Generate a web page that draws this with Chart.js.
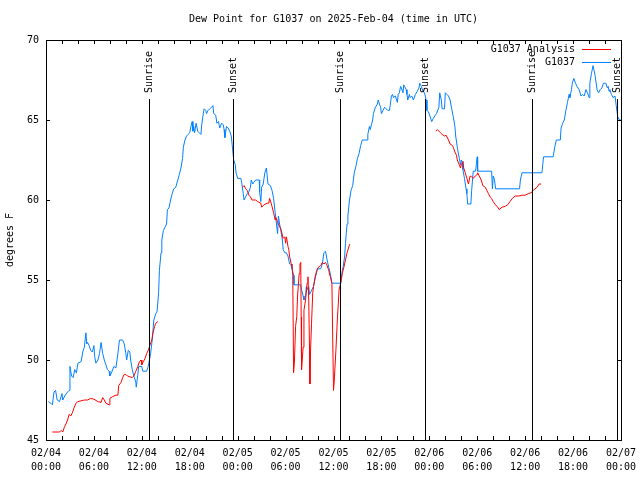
<!DOCTYPE html>
<html>
<head>
<meta charset="utf-8">
<title>Dew Point for G1037</title>
<script src="https://cdn.jsdelivr.net/npm/chart.js@4/dist/chart.umd.min.js"></script>
<style>
    html, body { margin: 0; padding: 0; background: #fff; }
    #wrap { width: 640px; height: 480px; position: relative; }
</style>
</head>
<body>
<div id="wrap"><canvas id="dew-chart"></canvas></div>
<script>
// hours since 02/04 00:00 UTC
const xTickLabels = [
    ['02/04', '00:00'], ['02/04', '06:00'], ['02/04', '12:00'], ['02/04', '18:00'],
    ['02/05', '00:00'], ['02/05', '06:00'], ['02/05', '12:00'], ['02/05', '18:00'],
    ['02/06', '00:00'], ['02/06', '06:00'], ['02/06', '12:00'], ['02/06', '18:00'],
    ['02/07', '00:00']
];
const yTicks = [45, 50, 55, 60, 65, 70];

const sunLabels = ['Sunrise', 'Sunset', 'Sunrise', 'Sunset', 'Sunrise', 'Sunset'];
const sunHours = [12.9, 23.4, 36.8, 47.4, 60.85, 71.45];

// G1037 observations
const obsHours = [
    0.3, 0.6, 0.8, 1.0, 1.2, 1.4, 1.7, 2.0, 2.1, 2.4, 2.7, 2.9, 3.0, 3.2, 3.4, 3.6, 3.8, 4.0, 4.4, 4.6,
    4.8, 5.0, 5.1, 5.2, 5.4, 5.6, 5.8, 6.0, 6.1, 6.25, 6.5, 6.7, 6.9, 7.0, 7.1, 7.3, 7.5, 7.7, 7.9, 8.0,
    8.2, 8.5, 8.75, 9.0, 9.2, 9.6, 9.8, 10.0, 10.1, 10.3, 10.5, 10.6, 10.8, 11.0, 11.25, 11.3, 11.5, 11.6, 12.0, 12.1,
    12.6, 12.8, 13.1, 13.3, 13.5, 13.75, 13.9, 14.1, 14.2, 14.4, 14.5, 14.7, 14.9, 15.1, 15.2, 15.4, 15.6, 15.8, 16.0, 16.25,
    16.5, 16.7, 16.9, 17.1, 17.2, 17.4, 17.6, 17.8, 18.0, 18.1, 18.3, 18.4, 18.5, 18.6, 18.8, 19.0, 19.2, 19.4, 19.5, 19.7,
    19.8, 20.0, 20.1, 20.3, 20.5, 20.75, 20.9, 21.0, 21.25, 21.4, 21.6, 21.75, 22.0, 22.2, 22.3, 22.4, 22.6, 22.8, 23.0, 23.2,
    23.4, 23.5, 23.7, 23.8, 24.0, 24.4, 24.5, 24.7, 24.8, 25.0, 25.2, 25.4, 25.6, 25.7, 25.9, 26.0, 26.25, 26.7, 26.75, 26.9,
    27.0, 27.2, 27.4, 27.6, 27.7, 27.8, 28.1, 28.3, 28.5, 28.7, 28.8, 29.0, 29.1, 29.25, 29.4, 29.6, 29.7, 29.9, 30.1, 30.3,
    30.5, 30.7, 30.8, 31.0, 31.05, 31.9, 32.0, 32.2, 32.3, 32.5, 32.6, 32.8, 32.9, 33.0, 33.2, 33.5, 33.75, 34.0, 34.4, 34.6,
    34.8, 35.0, 35.2, 35.4, 35.6, 35.8, 36.9, 37.1, 37.2, 37.4, 37.5, 37.6, 37.7, 37.8, 38.0, 38.2, 38.4, 38.6, 38.8, 39.0,
    39.2, 39.4, 39.6, 40.2, 40.3, 40.5, 40.6, 40.75, 40.9, 41.0, 41.25, 41.5, 41.6, 41.75, 41.9, 42.0, 42.2, 42.4, 42.6, 42.8,
    43.0, 43.1, 43.25, 43.4, 43.5, 43.75, 44.0, 44.1, 44.25, 44.4, 44.5, 44.7, 44.8, 44.9, 45.1, 45.2, 45.3, 45.5, 45.6, 45.8,
    46.0, 46.25, 46.5, 46.7, 46.8, 47.0, 47.2, 47.4, 47.6, 47.7, 47.9, 48.1, 48.3, 48.5, 48.75, 48.9, 49.2, 49.3, 49.5, 49.6,
    49.9, 50.0, 50.2, 50.4, 50.6, 50.8, 51.0, 51.2, 51.3, 51.5, 51.6, 51.75, 51.9, 52.0, 52.1, 52.2, 52.4, 52.6, 52.7, 52.8,
    53.2, 53.3, 53.45, 53.5, 53.8, 53.9, 54.0, 54.05, 55.8, 55.9, 56.0, 56.15, 56.3, 59.3, 59.4, 59.6, 62.1, 62.2, 62.3, 63.5,
    63.7, 63.9, 64.4, 64.5, 64.7, 64.9, 65.1, 65.3, 65.5, 65.6, 65.8, 65.9, 66.1, 66.3, 66.5, 66.75, 67.0, 67.2, 67.4, 67.6,
    67.8, 68.0, 68.1, 68.3, 68.5, 68.75, 69.0, 69.2, 69.4, 69.6, 69.8, 70.1, 70.3, 70.4, 70.5, 70.6, 70.8, 71.0, 71.25, 71.4,
    71.6, 71.8, 72.0
];
const obsDew = [
    47.4, 47.3, 47.2, 48.0, 48.1, 47.5, 47.4, 47.9, 47.5, 47.8, 48.0, 48.1, 49.6, 49.0, 48.9, 49.4, 49.2, 49.8, 49.9, 50.5,
    50.8, 51.7, 51.0, 51.1, 50.9, 50.6, 50.5, 50.9, 50.2, 49.8, 50.0, 50.4, 51.1, 51.1, 50.4, 50.0, 49.7, 49.4, 49.3, 49.0,
    49.2, 49.6, 49.5, 50.4, 51.25, 51.25, 51.0, 50.4, 50.0, 50.6, 50.5, 50.0, 49.4, 49.0, 48.6, 48.3, 49.1, 49.6, 49.6, 49.3,
    49.3, 49.6, 50.4, 51.25, 52.5, 52.9, 53.0, 54.2, 55.6, 56.7, 57.5, 58.1, 58.3, 58.5, 59.4, 59.5, 60.0, 60.4, 60.7, 60.8,
    61.25, 61.6, 62.0, 62.6, 63.3, 63.75, 64.0, 64.1, 64.2, 64.5, 64.9, 64.3, 64.6, 64.2, 64.8, 64.3, 64.2, 64.1, 64.7, 65.4,
    65.7, 65.6, 65.4, 65.6, 65.7, 65.8, 65.9, 65.4, 65.3, 64.8, 64.9, 64.5, 64.8, 64.7, 64.4, 63.9, 64.6, 64.5, 64.3, 64.0,
    63.0, 62.5, 62.2, 61.7, 61.35, 61.35, 61.1, 60.4, 60.0, 60.2, 60.4, 60.5, 60.8, 61.25, 61.0, 61.1, 61.25, 61.25, 60.5, 59.9,
    60.8, 61.0, 61.7, 62.0, 61.5, 61.0, 60.9, 60.6, 60.1, 59.2, 58.75, 57.9, 59.0, 58.5, 58.1, 57.5, 56.9, 56.7, 56.7, 56.5,
    56.0, 55.9, 55.7, 55.3, 54.7, 54.7, 54.4, 54.0, 53.75, 54.0, 54.6, 54.4, 54.6, 54.1, 54.3, 54.6, 55.2, 55.7, 55.7, 56.0,
    56.7, 56.8, 56.25, 55.8, 55.4, 54.8, 54.8, 55.6, 55.8, 56.5, 57.3, 57.9, 58.5, 59.0, 60.0, 60.6, 60.9, 61.7, 62.1, 62.6,
    62.9, 63.4, 63.75, 63.75, 64.1, 64.6, 64.4, 64.7, 65.0, 65.4, 65.8, 66.0, 66.25, 66.0, 65.8, 65.4, 65.6, 65.8, 65.7, 65.6,
    65.6, 65.9, 66.5, 66.6, 66.4, 66.5, 66.1, 66.6, 66.7, 67.1, 67.0, 66.7, 67.2, 67.1, 66.9, 66.6, 66.25, 66.6, 66.4, 66.5,
    66.25, 66.6, 66.8, 67.0, 67.3, 67.1, 66.8, 66.7, 66.25, 65.6, 65.5, 65.2, 64.9, 65.1, 65.3, 65.4, 65.8, 66.7, 66.25, 65.7,
    65.7, 66.7, 66.6, 66.5, 66.25, 65.7, 65.2, 64.6, 64.0, 63.3, 63.0, 62.6, 62.2, 62.5, 62.4, 61.9, 61.35, 60.7, 60.4, 59.75,
    59.75, 60.6, 61.5, 61.8, 61.8, 62.3, 62.7, 61.8, 61.8, 60.7, 61.5, 61.3, 60.7, 60.7, 61.25, 61.7, 61.7, 62.2, 62.7, 62.7,
    63.3, 63.75, 63.75, 64.5, 64.8, 65.0, 65.6, 66.1, 66.6, 66.4, 66.9, 67.3, 67.6, 67.3, 67.1, 66.9, 66.5, 66.6, 66.5, 66.9,
    66.7, 66.4, 67.3, 67.9, 68.4, 67.8, 66.9, 66.7, 66.9, 67.0, 67.3, 67.3, 67.0, 67.1, 66.8, 66.9, 66.6, 66.4, 66.5, 65.9,
    65.2, 65.0, 65.0
];

// G1037 Analysis (null = no analysis)
const anaHours = [
    0.8, 1.7, 1.9, 2.1, 2.3, 2.5, 2.7, 2.9, 3.1, 3.3, 3.5, 3.75, 4.0, 4.4, 4.8, 5.2, 5.6, 6.0, 6.5, 6.9,
    7.1, 7.3, 7.5, 7.9, 8.0, 8.3, 8.75, 9.0, 9.1, 9.4, 9.6, 9.8, 10.0, 10.2, 10.8, 11.0, 11.25, 11.5, 11.7, 11.9,
    12.0, 12.2, 12.4, 12.6, 12.8, 13.0, 13.25, 13.4, 13.6, 13.75, 14.0, 14.5,
    24.6, 24.8, 25.0, 25.2, 25.4, 25.6, 25.8, 26.25, 26.5, 26.9, 27.0, 27.3, 27.7, 27.9, 28.0, 28.2, 28.3, 28.5, 28.7, 28.8,
    29.0, 29.2, 29.4, 29.5, 29.7, 29.9, 30.0, 30.1, 30.3, 30.4, 30.5, 30.7, 30.8, 30.9, 31.0, 31.1, 31.25, 31.4, 31.5, 31.7,
    31.8, 31.9, 31.95, 32.0, 32.2, 32.3, 32.5, 32.7, 32.8, 32.9, 33.0, 33.05, 33.1, 33.25, 33.4, 33.5, 33.7, 33.9, 34.1, 34.4,
    34.6, 34.8, 35.0, 35.2, 35.4, 35.6, 35.8, 36.0, 36.1, 36.3, 36.5, 36.6, 36.7, 36.9, 37.1, 37.3, 37.5, 37.7, 38.0, 38.1, 38.5,
    48.8, 49.0, 49.4, 49.6, 49.9, 50.1, 50.4, 50.6, 50.9, 51.0, 51.2, 51.4, 51.5, 51.75, 51.9, 52.0, 52.2, 52.3, 52.5, 52.7,
    52.9, 53.0, 53.1, 53.3, 53.5, 53.75, 54.0, 54.05, 54.25, 54.5, 54.7, 55.0, 55.2, 55.4, 55.6, 55.8, 56.0, 56.25, 56.5, 56.75,
    57.1, 57.5, 57.8, 58.1, 58.4, 58.75, 59.2, 59.6, 60.0, 60.4, 60.75, 61.0, 61.5, 61.75, 62.0
];
const anaDew = [
    45.5, 45.5, 45.6, 45.5, 45.8, 46.0, 46.25, 46.6, 46.5, 46.7, 47.0, 47.3, 47.4, 47.45, 47.5, 47.5, 47.6, 47.55, 47.4, 47.35,
    47.65, 47.5, 47.3, 47.2, 47.6, 47.7, 47.8, 47.8, 48.4, 48.6, 48.9, 49.1, 49.1, 49.0, 48.9, 49.0, 49.3, 49.6, 49.9, 50.0,
    49.7, 49.9, 50.1, 50.4, 50.6, 50.9, 51.25, 51.7, 52.1, 52.3, 52.4, null,
    60.8, 60.9, 60.7, 60.6, 60.3, 60.2, 60.0, 60.0, 59.9, 59.8, 59.55, 59.7, 59.8, 59.8, 60.1, 59.8, 59.6, 59.2, 58.75, 58.9,
    58.6, 58.4, 58.2, 58.0, 57.6, 57.7, 57.3, 57.7, 57.1, 56.9, 56.5, 56.0, 55.9, 55.3, 49.2, 49.8, 52.1, 52.7, 54.0, 55.4,
    56.0, 56.1, 52.7, 49.4, 50.8, 53.1, 53.75, 54.8, 55.2, 53.75, 50.6, 48.5, 50.2, 52.3, 54.2, 54.6, 55.2, 55.6, 55.8, 55.9,
    56.1, 56.0, 56.1, 55.9, 55.6, 55.2, 54.8, 48.1, 48.75, 50.6, 52.7, 53.5, 54.4, 54.8, 55.4, 55.8, 56.25, 56.7, 57.2, 57.25, null,
    64.3, 64.4, 64.2, 64.1, 64.0, 64.05, 63.75, 63.5, 63.4, 63.3, 63.0, 62.8, 62.5, 62.2, 62.0, 62.2, 62.4, 62.0, 61.7, 61.35,
    61.0, 61.25, 61.5, 61.45, 61.35, 61.5, 61.6, 61.7, 61.5, 61.25, 60.9, 60.8, 60.6, 60.4, 60.2, 60.1, 59.9, 59.7, 59.6, 59.4,
    59.55, 59.6, 59.7, 59.9, 60.1, 60.25, 60.25, 60.3, 60.3, 60.4, 60.45, 60.6, 60.8, 61.0, 61.0
];

const FONT = 'DejaVu Sans Mono';

// gnuplot style frame, inward ticks, sun lines, title and key
const gnuplotDecor = {
    id: 'gnuplotDecor',
    afterDatasetsDraw(chart) {
        const { ctx, chartArea: a, scales: { x, y } } = chart;
        ctx.save();
        ctx.strokeStyle = '#000';
        ctx.lineWidth = 1;
        ctx.beginPath();
        // ticks every 2 h on bottom and top
        for (let h = 0; h <= 72; h += 2) {
            const px = Math.round(x.getPixelForValue(h)) + 0.5;
            ctx.moveTo(px, a.bottom); ctx.lineTo(px, a.bottom - 4);
            ctx.moveTo(px, a.top); ctx.lineTo(px, a.top + 4);
        }
        yTicks.forEach((v) => {
            const py = Math.round(y.getPixelForValue(v)) + 0.5;
            ctx.moveTo(a.left, py); ctx.lineTo(a.left + 4, py);
            ctx.moveTo(a.right, py); ctx.lineTo(a.right - 4, py);
        });
        // sunrise / sunset markers
        sunHours.forEach((h) => {
            const px = Math.round(x.getPixelForValue(h)) + 0.5;
            ctx.moveTo(px, 99); ctx.lineTo(px, a.bottom);
        });
        ctx.stroke();
        ctx.strokeRect(Math.round(a.left) + 0.5, Math.round(a.top) + 0.5,
            Math.round(a.right - a.left), Math.round(a.bottom - a.top));

        ctx.fillStyle = '#000';
        ctx.font = `10px "${FONT}"`;
        ctx.textBaseline = 'middle';
        sunHours.forEach((h, i) => {
            const px = Math.round(x.getPixelForValue(h)) + 0.5;
            ctx.save();
            ctx.translate(px, 93);
            ctx.rotate(-Math.PI / 2);
            ctx.textAlign = 'left';
            ctx.fillText(sunLabels[i], 0, 0);
            ctx.restore();
        });

        ctx.textAlign = 'center';
        ctx.fillText('Dew Point for G1037 on 2025-Feb-04 (time in UTC)', (a.left + a.right) / 2, 19);

        // key
        ctx.textAlign = 'right';
        chart.data.datasets.forEach((ds, i) => {
            const ky = 49 + i * 13;
            ctx.fillStyle = '#000';
            ctx.fillText(ds.label, 575, ky);
            ctx.strokeStyle = ds.borderColor;
            ctx.beginPath();
            ctx.moveTo(582, ky + 0.5); ctx.lineTo(611, ky + 0.5);
            ctx.stroke();
        });
        ctx.restore();
    }
};

new Chart(document.getElementById('dew-chart'), {
    type: 'line',
    data: {
        datasets: [
            {
                label: 'G1037 Analysis',
                data: anaHours.map((h, i) => ({ x: h, y: anaDew[i] })),
                borderColor: '#ff0000',
                borderWidth: 1,
                pointRadius: 0,
                tension: 0,
                spanGaps: false
            },
            {
                label: 'G1037',
                data: obsHours.map((h, i) => ({ x: h, y: obsDew[i] })),
                borderColor: '#0080ff',
                borderWidth: 1,
                pointRadius: 0,
                tension: 0
            }
        ]
    },
    options: {
        responsive: true,
        maintainAspectRatio: false,
        animation: false,
        events: [],
        layout: { padding: { top: 40, right: 19, left: 0, bottom: 0 } },
        plugins: {
            legend: { display: false },
            tooltip: { enabled: false },
            title: { display: false }
        },
        scales: {
            x: {
                type: 'linear',
                min: 0,
                max: 72,
                grid: { display: false, drawTicks: false },
                border: { display: false },
                ticks: {
                    stepSize: 6,
                    autoSkip: false,
                    maxRotation: 0,
                    padding: 7,
                    color: '#000',
                    font: { family: FONT, size: 10, lineHeight: 1.35 },
                    callback: (value, index) => xTickLabels[index]
                },
                afterFit: (scale) => {
                    scale.height = 40;
                    scale.paddingLeft = 0;
                    scale.paddingRight = 0;
                }
            },
            y: {
                min: 45,
                max: 70,
                grid: { display: false, drawTicks: false },
                border: { display: false },
                ticks: {
                    stepSize: 5,
                    padding: 7,
                    color: '#000',
                    font: { family: FONT, size: 10 }
                },
                title: {
                    display: true,
                    text: 'degrees F',
                    color: '#000',
                    padding: { top: 4, bottom: 0 },
                    font: { family: FONT, size: 10 }
                },
                afterFit: (scale) => { scale.width = 46; }
            }
        }
    },
    plugins: [gnuplotDecor]
});
</script>
</body>
</html>
